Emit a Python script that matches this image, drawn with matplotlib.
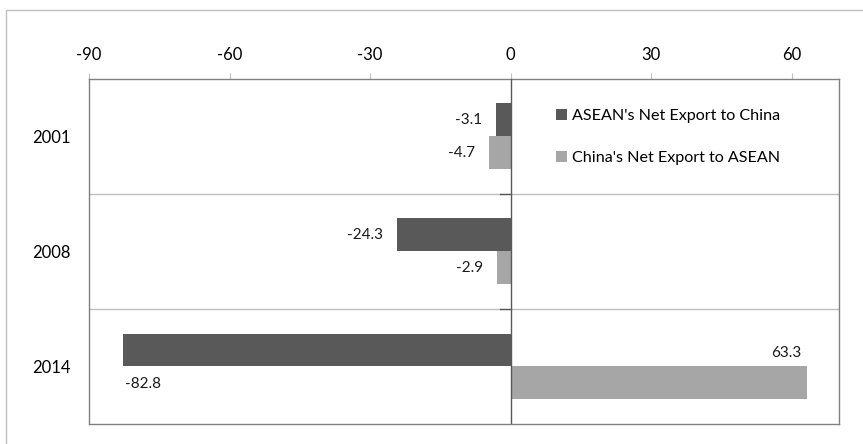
import numpy as np
import matplotlib.pyplot as plt
from matplotlib.patches import Rectangle

plt.rcParams['font.family'] = ['Lato', 'DejaVu Sans']

years = ['2001', '2008', '2014']
asean_to_china = [-3.1, -24.3, -82.8]
china_to_asean = [-4.7, -2.9, 63.3]
series_names = ["ASEAN's Net Export to China", "China's Net Export to ASEAN"]
xticks = [-90, -60, -30, 0, 30, 60]

dark = '#595959'
light = '#a6a6a6'
frame = '#808080'

fig = plt.figure(figsize=(8.63, 4.44), dpi=100)
# outer chart border, cut off on the right and bottom
fig.patches.append(Rectangle((6 / 863, -0.1), 1.2, 1 - 10.5 / 444 + 0.1,
                             transform=fig.transFigure, fill=False,
                             edgecolor='#bfbfbf', linewidth=1.0))

ax = fig.add_axes([0.1031, 0.045, 0.8687, 0.7777])

y = np.arange(len(years))
h = 1 / 3.5
ax.barh(y - h / 2, asean_to_china, height=h, color=dark, label=series_names[0], zorder=3)
ax.barh(y + h / 2, china_to_asean, height=h, color=light, label=series_names[1], zorder=3)

ax.set_xlim(-90, 70)
ax.set_ylim(2.5, -0.5)
ax.xaxis.tick_top()
ax.set_xticks(xticks)
ax.set_xticklabels([str(t) for t in xticks], fontsize=12)
ax.tick_params(axis='x', direction='out', length=4, color='#bfbfbf', pad=7)

ax.set_yticks(y)
ax.set_yticklabels(years, fontsize=12)
ax.tick_params(axis='y', length=0, pad=13)

for s in ax.spines.values():
    s.set_color(frame)
    s.set_linewidth(1.0)

# category separators and the zero axis
for b in [0.5, 1.5]:
    ax.axhline(b, color='#bfbfbf', linewidth=1.0, zorder=1)
    ax.plot([-2.2, 0], [b, b], color=dark, linewidth=1.0, zorder=4)
ax.axvline(0, color=dark, linewidth=1.0, zorder=4)

# value labels
lab = dict(fontsize=11, color='#1a1a1a', va='center')
for i in range(2):
    ax.annotate(f'{asean_to_china[i]}', (asean_to_china[i], y[i] - h / 2),
                xytext=(-10, 0), textcoords='offset points', ha='right', **lab)
    ax.annotate(f'{china_to_asean[i]}', (china_to_asean[i], y[i] + h / 2),
                xytext=(-10, 0), textcoords='offset points', ha='right', **lab)
ax.annotate(f'{asean_to_china[2]}', (asean_to_china[2], y[2] + 0.15),
            xytext=(2, 0), textcoords='offset points', ha='left', **lab)
ax.annotate(f'{china_to_asean[2]}', (china_to_asean[2], y[2] - 0.12),
            xytext=(-4, 0), textcoords='offset points', ha='right', **lab)

ax.legend(loc='upper left', bbox_to_anchor=(0.615, 0.93), frameon=False,
          fontsize=11.6, handlelength=0.65, handleheight=0.65, handletextpad=0.3,
          labelspacing=1.7, borderaxespad=0)

fig.savefig('out.png', dpi=100)
